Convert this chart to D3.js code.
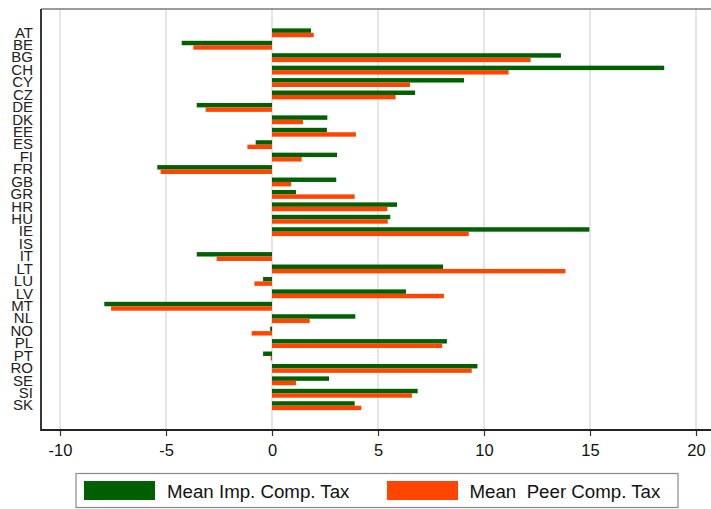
<!DOCTYPE html>
<html>
<head>
<meta charset="utf-8">
<script src="https://cdn.jsdelivr.net/npm/d3@7"></script>
<style>
  html, body { margin: 0; padding: 0; background: #fff; }
  svg { display: block; font-family: "Liberation Sans", Arial, sans-serif; }
</style>
</head>
<body>
<svg id="chart" width="711" height="509"></svg>
<script>
// Country codes, top to bottom
const countries = ["AT","BE","BG","CH","CY","CZ","DE","DK","EE","ES","FI","FR","GB","GR","HR","HU","IE","IS","IT","LT","LU","LV","MT","NL","NO","PL","PT","RO","SE","SI","SK"];

// Mean imputed comparison tax (IS has no value)
const meanImpCompTax = [1.84,-4.26,13.63,18.5,9.06,6.75,-3.55,2.61,2.59,-0.77,3.07,-5.41,3.03,1.13,5.90,5.58,14.97,null,-3.55,8.07,-0.42,6.32,-7.91,3.93,-0.09,8.25,-0.42,9.69,2.69,6.87,3.90];

// Mean peer comparison tax
const meanPeerCompTax = [1.97,-3.71,12.2,11.16,6.51,5.83,-3.13,1.46,3.96,-1.16,1.40,-5.25,0.90,3.90,5.44,5.46,9.28,null,-2.61,13.84,-0.83,8.11,-7.59,1.78,-0.96,8.03,-0.06,9.42,1.13,6.60,4.21];

const xTicks = [-10,-5,0,5,10,15,20];

const seriesNames = ["Mean Imp. Comp. Tax", "Mean  Peer Comp. Tax"];
const seriesColors = ["#006000", "#ff4500"];

const svg = d3.select("#chart");

const plot = { left: 41, right: 711, top: 9, bottom: 430 };

const x = d3.scaleLinear().domain([-10, 20]).range([60, 696]);
const y = d3.scaleBand().domain(countries).range([26.6, 411.9]).padding(0);
const ySub = d3.scaleBand().domain([0, 1]).range([0, y.bandwidth()]).paddingInner(0).paddingOuter(0.4);

// vertical gridlines
svg.append("g").selectAll("line").data(xTicks).join("line")
  .attr("x1", d => x(d)).attr("x2", d => x(d))
  .attr("y1", plot.top).attr("y2", plot.bottom)
  .attr("stroke", "#dcdcdc").attr("stroke-width", 1.5);

// top frame line
svg.append("line")
  .attr("x1", plot.left).attr("x2", plot.right)
  .attr("y1", plot.top).attr("y2", plot.top)
  .attr("stroke", "#7a7a7a").attr("stroke-width", 1.5);

// bars
const rows = countries.map((c, i) => ({ c, v: [meanImpCompTax[i], meanPeerCompTax[i]] }));
const gBars = svg.append("g");
rows.forEach(r => {
  r.v.forEach((v, s) => {
    if (v === null) return;
    gBars.append("rect")
      .attr("x", Math.min(x(0), x(v)))
      .attr("width", Math.abs(x(v) - x(0)))
      .attr("y", y(r.c) + ySub(s))
      .attr("height", ySub.bandwidth())
      .attr("fill", seriesColors[s]);
  });
});

// x axis (plain hyphen for negatives)
const xAxis = d3.axisBottom(x).tickValues(xTicks).tickSize(6).tickPadding(8).tickFormat(d => String(d));
const gx = svg.append("g").attr("transform", `translate(0,${plot.bottom})`).call(xAxis);
gx.select(".domain").remove();
gx.selectAll(".tick line").attr("stroke", "#333").attr("stroke-width", 1.2);
gx.selectAll(".tick text").attr("font-size", 16.5).attr("fill", "#111")
  .attr("font-family", "'Liberation Sans', Arial, sans-serif");
svg.append("line")
  .attr("x1", plot.left).attr("x2", plot.right)
  .attr("y1", plot.bottom).attr("y2", plot.bottom)
  .attr("stroke", "#222").attr("stroke-width", 1.8);

// y axis
const yAxis = d3.axisLeft(y).tickSize(0).tickPadding(8);
const gy = svg.append("g").attr("transform", `translate(${plot.left},0)`).call(yAxis);
gy.select(".domain").remove();
gy.selectAll(".tick text").attr("font-size", 15).attr("fill", "#222")
  .attr("font-family", "'Liberation Sans', Arial, sans-serif");
svg.append("line")
  .attr("x1", plot.left).attr("x2", plot.left)
  .attr("y1", plot.top).attr("y2", plot.bottom + 0.9)
  .attr("stroke", "#222").attr("stroke-width", 1.8);

// legend
const legend = svg.append("g");
legend.append("rect")
  .attr("x", 76).attr("y", 473.5).attr("width", 602).attr("height", 34)
  .attr("fill", "#fff").attr("stroke", "#8a8a8a").attr("stroke-width", 1.2);
const legendItems = [
  { sx: 84, tx: 167 },
  { sx: 387, tx: 469.5 }
];
legendItems.forEach((p, i) => {
  legend.append("rect")
    .attr("x", p.sx).attr("y", 481).attr("width", 71).attr("height", 19)
    .attr("fill", seriesColors[i]);
  legend.append("text")
    .attr("x", p.tx).attr("y", 491)
    .attr("dominant-baseline", "central")
    .attr("font-size", 18.7).attr("fill", "#111")
    .style("white-space", "pre")
    .text(seriesNames[i]);
});
</script>
</body>
</html>
